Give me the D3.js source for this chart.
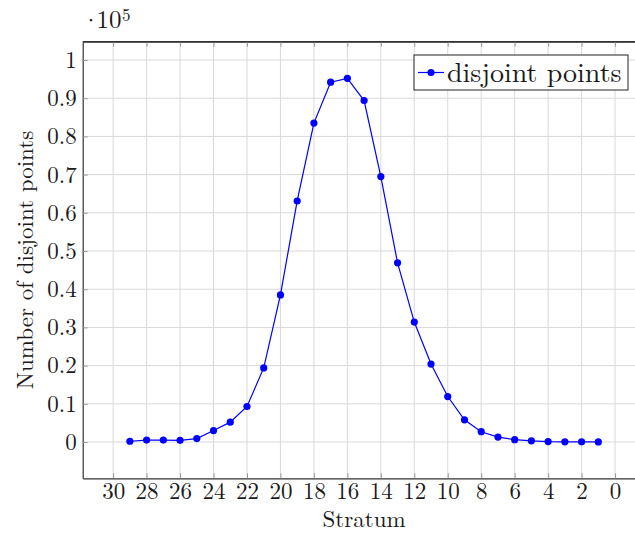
<!DOCTYPE html>
<html><head><meta charset="utf-8">
<script src="https://cdn.jsdelivr.net/npm/d3@7"></script>
<style>body{margin:0;background:#fff}svg{display:block}text{font-family:"Latin Modern Roman","Liberation Serif","Times New Roman",serif;fill:#1a1a1a}</style>
</head><body><svg id="c" width="635" height="533"></svg>
<script>
const strata = [29,28,27,26,25,24,23,22,21,20,19,18,17,16,15,14,13,12,11,10,9,8,7,6,5,4,3,2,1];
const values = [0.002,0.005,0.005,0.0045,0.009,0.03,0.052,0.093,0.194,0.385,0.631,0.835,0.942,0.952,0.894,0.695,0.469,0.314,0.204,0.119,0.058,0.027,0.013,0.006,0.003,0.0012,0.0006,0.0004,0.0002];
const xTicks = [30,28,26,24,22,20,18,16,14,12,10,8,6,4,2,0];
const yTicks = [0,0.1,0.2,0.3,0.4,0.5,0.6,0.7,0.8,0.9,1];
const seriesName = "disjoint points";
const xLabel = "Stratum", yLabel = "Number of disjoint points";

const svg = d3.select("#c");
const L = 82.7, R = 645.5, T = 41.7, B = 478.3;
const x = d3.scaleLinear().domain([31.82, -1.82]).range([L, R]);
const y = d3.scaleLinear().domain([-0.095, 1.048]).range([B, T]);
const fs = 23;

// grid
const g = svg.append("g");
g.selectAll(".gx").data(xTicks).join("line").attr("x1", d => x(d)).attr("x2", d => x(d)).attr("y1", T).attr("y2", B).attr("stroke", "#d9d9d9").attr("stroke-width", 1);
g.selectAll(".gy").data(yTicks).join("line").attr("x1", L).attr("x2", R).attr("y1", d => y(d)).attr("y2", d => y(d)).attr("stroke", "#d9d9d9").attr("stroke-width", 1);

// axes via d3
const xAxisB = svg.append("g").attr("transform", `translate(0,${B})`).call(d3.axisBottom(x).tickValues(xTicks).tickSizeInner(-5).tickSizeOuter(0).tickPadding(4.5).tickFormat(d3.format("d")));
const xAxisT = svg.append("g").attr("transform", `translate(0,${T})`).call(d3.axisTop(x).tickValues(xTicks).tickSizeInner(-5).tickSizeOuter(0).tickFormat(""));
const yAxisL = svg.append("g").attr("transform", `translate(${L},0)`).call(d3.axisLeft(y).tickValues(yTicks).tickSizeInner(-5).tickSizeOuter(0).tickPadding(6).tickFormat(d => d === 0 ? "0" : d === 1 ? "1" : d3.format(".1f")(d)));
[xAxisB, xAxisT, yAxisL].forEach(a => {
  a.select(".domain").attr("stroke", "#333").attr("stroke-width", 1.2);
  a.selectAll(".tick line").attr("stroke", "#999").attr("stroke-width", 1);
  a.selectAll("text").attr("font-size", fs).attr("fill", "#1a1a1a").style("font-family", '"Latin Modern Roman","Liberation Serif",serif');
});
svg.append("line").attr("x1", L).attr("x2", R).attr("y1", T).attr("y2", T).attr("stroke", "#333").attr("stroke-width", 1.2);

// scale note
svg.append("text").attr("x", 91).attr("y", 28.3).attr("font-size", fs).attr("text-anchor", "middle").text("·");
svg.append("text").attr("x", 96.5).attr("y", 28.3).attr("font-size", 25).text("10");
svg.append("text").attr("x", 122).attr("y", 20.5).attr("font-size", 17).text("5");

// line + points
const line = d3.line().x((d, i) => x(strata[i])).y(d => y(d));
svg.append("path").datum(values).attr("d", line).attr("fill", "none").attr("stroke", "#0000ff").attr("stroke-width", 1.2);
svg.selectAll(".pt").data(values).join("circle").attr("cx", (d, i) => x(strata[i])).attr("cy", d => y(d)).attr("r", 3.6).attr("fill", "#0000ff");

// legend
const lg = svg.append("g");
lg.append("rect").attr("x", 414).attr("y", 55).attr("width", 214).attr("height", 35).attr("fill", "#fff").attr("stroke", "#222").attr("stroke-width", 1);
lg.append("line").attr("x1", 418).attr("x2", 444).attr("y1", 72.5).attr("y2", 72.5).attr("stroke", "#0000ff").attr("stroke-width", 1.2);
lg.append("circle").attr("cx", 431).attr("cy", 72.5).attr("r", 3.6).attr("fill", "#0000ff");
lg.append("text").attr("x", 447).attr("y", 81.5).attr("font-size", 28).text(seriesName);

// axis labels
svg.append("text").attr("x", (L + R) / 2).attr("y", 527).attr("text-anchor", "middle").attr("font-size", fs).text(xLabel);
svg.append("text").attr("transform", `translate(33,${(T + B) / 2}) rotate(-90)`).attr("text-anchor", "middle").attr("font-size", fs).text(yLabel);
</script></body></html>
